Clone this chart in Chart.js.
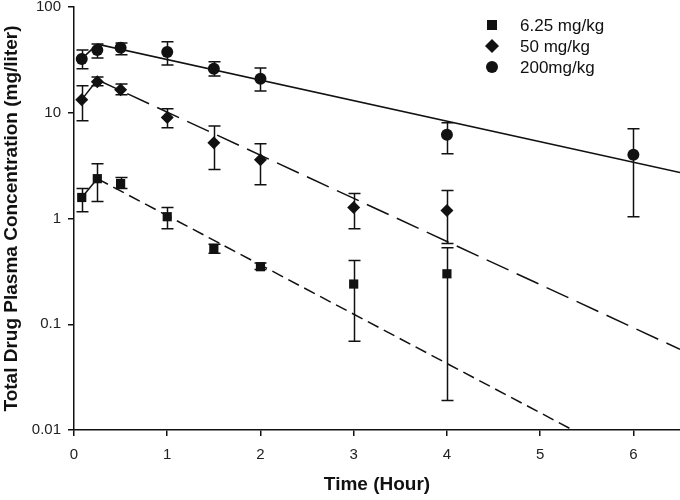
<!DOCTYPE html>
<html>
<head>
<meta charset="utf-8">
<script src="https://cdn.jsdelivr.net/npm/chart.js@4/dist/chart.umd.min.js"></script>
<style>
  body { margin: 0; background: #fff; }
  #wrap { width: 680px; height: 500px; }
</style>
</head>
<body>
<div id="wrap"><canvas id="pk" width="680" height="500"></canvas></div>
<script>
// series names (legend)
var seriesNames = ["6.25 mg/kg", "50 mg/kg", "200mg/kg"];

// 6.25 mg/kg
var lowTime  = [0.083, 0.25, 0.5, 1, 1.5, 2, 3, 4];
var lowMean  = [1.58, 2.38, 2.14, 1.04, 0.52, 0.35, 0.24, 0.30];
var lowUpper = [1.92, 3.30, 2.44, 1.27, 0.57, 0.38, 0.40, 0.53];
var lowLower = [1.16, 1.45, 1.92, 0.80, 0.47, 0.33, 0.069, 0.019];

// 50 mg/kg
var midTime  = [0.083, 0.25, 0.5, 1, 1.5, 2, 3, 4];
var midMean  = [13.3, 19.6, 16.5, 9.0, 5.2, 3.6, 1.27, 1.19];
var midUpper = [18.0, 21.8, 18.7, 10.9, 7.5, 5.1, 1.72, 1.84];
var midLower = [8.4, 18.0, 14.8, 7.2, 2.9, 2.09, 0.80, 0.58];

// 200 mg/kg
var highTime  = [0.083, 0.25, 0.5, 1, 1.5, 2, 4, 6];
var highMean  = [32.3, 39.3, 41.1, 37.5, 26.0, 21.0, 6.2, 4.0];
var highUpper = [39.3, 44.7, 45.6, 46.8, 30.3, 26.5, 8.05, 7.06];
var highLower = [26.0, 33.0, 35.3, 28.3, 22.3, 16.1, 4.1, 1.04];

// fitted curves (straight on log scale, so only the end points)
var fitLowTime  = [0.083, 0.25, 5.35];
var fitLow      = [1.58, 2.38, 0.01];
var fitMidTime  = [0.083, 0.25, 6.5];
var fitMid      = [13.3, 20.5, 0.058];
var fitHighTime = [0.083, 0.25, 6.5];
var fitHigh     = [32.3, 44.5, 2.72];

// axes
var xTicks = [0, 1, 2, 3, 4, 5, 6];
var yTicks = [0.01, 0.1, 1, 10, 100];

var ink = "#111";

function pts(xs, ys) {
    return xs.map(function (x, i) { return { x: x, y: ys[i] }; });
}

function markerSet(label, xs, ys, up, lo, style, r) {
    return {
        type: 'scatter',
        label: label,
        data: pts(xs, ys),
        errUp: up,
        errLo: lo,
        showLine: false,
        pointStyle: style,
        pointRadius: r,
        pointHoverRadius: r,
        backgroundColor: ink,
        borderColor: ink,
        borderWidth: 0,
        order: 0
    };
}

function fitSet(xs, ys, dash) {
    return {
        type: 'line',
        label: '',
        data: pts(xs, ys),
        showLine: true,
        pointRadius: 0,
        borderColor: ink,
        borderWidth: 1.5,
        fill: false,
        tension: 0,
        segment: {
            borderDash: function (c) { return c.p0DataIndex === 0 ? [] : dash; }
        },
        order: 1
    };
}

// vertical error bars with caps, drawn under the markers
var errorBars = {
    id: 'errorBars',
    beforeDatasetsDraw: function (chart) {
        var c = chart.ctx, xs = chart.scales.x, ys = chart.scales.y;
        c.save();
        c.strokeStyle = ink;
        c.lineWidth = 1.5;
        chart.data.datasets.forEach(function (ds) {
            if (!ds.errUp) return;
            ds.data.forEach(function (p, i) {
                var px = Math.round(xs.getPixelForValue(p.x)) + 0.5;
                var top = ys.getPixelForValue(ds.errUp[i]);
                var bot = ys.getPixelForValue(ds.errLo[i]);
                c.beginPath();
                c.moveTo(px, top); c.lineTo(px, bot);
                c.moveTo(px - 6, top); c.lineTo(px + 6, top);
                c.moveTo(px - 6, bot); c.lineTo(px + 6, bot);
                c.stroke();
            });
        });
        c.restore();
    }
};

// legend inside the plot, top right
var legendBox = {
    id: 'legendBox',
    afterDraw: function (chart) {
        var c = chart.ctx;
        var mx = 492, tx = 520, y0 = 25, step = 21;
        c.save();
        c.fillStyle = ink;
        c.font = "17px 'Liberation Sans', Arial, sans-serif";
        c.textBaseline = 'middle';
        seriesNames.forEach(function (name, i) {
            var y = y0 + i * step;
            c.beginPath();
            if (i === 0) {
                c.rect(mx - 5, y - 5, 10, 10);
            } else if (i === 1) {
                c.moveTo(mx, y - 7); c.lineTo(mx + 7, y); c.lineTo(mx, y + 7); c.lineTo(mx - 7, y);
                c.closePath();
            } else {
                c.arc(mx, y, 6, 0, Math.PI * 2);
            }
            c.fill();
            c.fillText(name, tx, y + 1);
        });
        c.restore();
    }
};

var tickFont = { family: "'Liberation Sans', Arial, sans-serif", size: 15 };
var titleFont = { family: "'Liberation Sans', Arial, sans-serif", size: 19, weight: 'bold' };

var chart = new Chart(document.getElementById('pk'), {
    data: {
        datasets: [
            markerSet(seriesNames[0], lowTime, lowMean, lowUpper, lowLower, 'rect', 6.5),
            markerSet(seriesNames[1], midTime, midMean, midUpper, midLower, 'rectRot', 6.5),
            markerSet(seriesNames[2], highTime, highMean, highUpper, highLower, 'circle', 6),
            fitSet(fitLowTime, fitLow, [12, 6]),
            fitSet(fitMidTime, fitMid, [24, 9]),
            fitSet(fitHighTime, fitHigh, [])
        ]
    },
    options: {
        responsive: false,
        animation: false,
        layout: { autoPadding: false, padding: { top: 7, right: 0, left: 0, bottom: 0 } },
        plugins: {
            legend: { display: false },
            tooltip: { enabled: false }
        },
        scales: {
            x: {
                type: 'linear',
                min: 0,
                max: 6.5,
                afterBuildTicks: function (s) { s.ticks = xTicks.map(function (v) { return { value: v }; }); },
                afterFit: function (s) { s.height = 70; s.paddingLeft = 0; s.paddingRight = 0; },
                ticks: { color: '#222', font: tickFont, padding: 10 },
                grid: { drawOnChartArea: false, color: ink, tickLength: 6, lineWidth: 1.5 },
                border: { color: ink, width: 1.5 },
                title: { display: true, text: 'Time (Hour)', color: ink, font: titleFont, padding: { top: 0, bottom: 4 } }
            },
            y: {
                type: 'logarithmic',
                min: 0.01,
                max: 100,
                afterBuildTicks: function (s) { s.ticks = yTicks.map(function (v) { return { value: v }; }); },
                afterFit: function (s) { s.width = 74; s.paddingTop = 0; s.paddingBottom = 0; },
                ticks: {
                    color: '#222', font: tickFont, padding: 7,
                    callback: function (v) { return String(v); }
                },
                grid: { drawOnChartArea: false, color: ink, tickLength: 6, lineWidth: 1.5 },
                border: { color: ink, width: 1.5 },
                title: { display: true, text: 'Total Drug Plasma Concentration (mg/liter)', color: ink, font: titleFont, padding: { top: 0, bottom: 0 } }
            }
        }
    },
    plugins: [errorBars, legendBox]
});
</script>
</body>
</html>
